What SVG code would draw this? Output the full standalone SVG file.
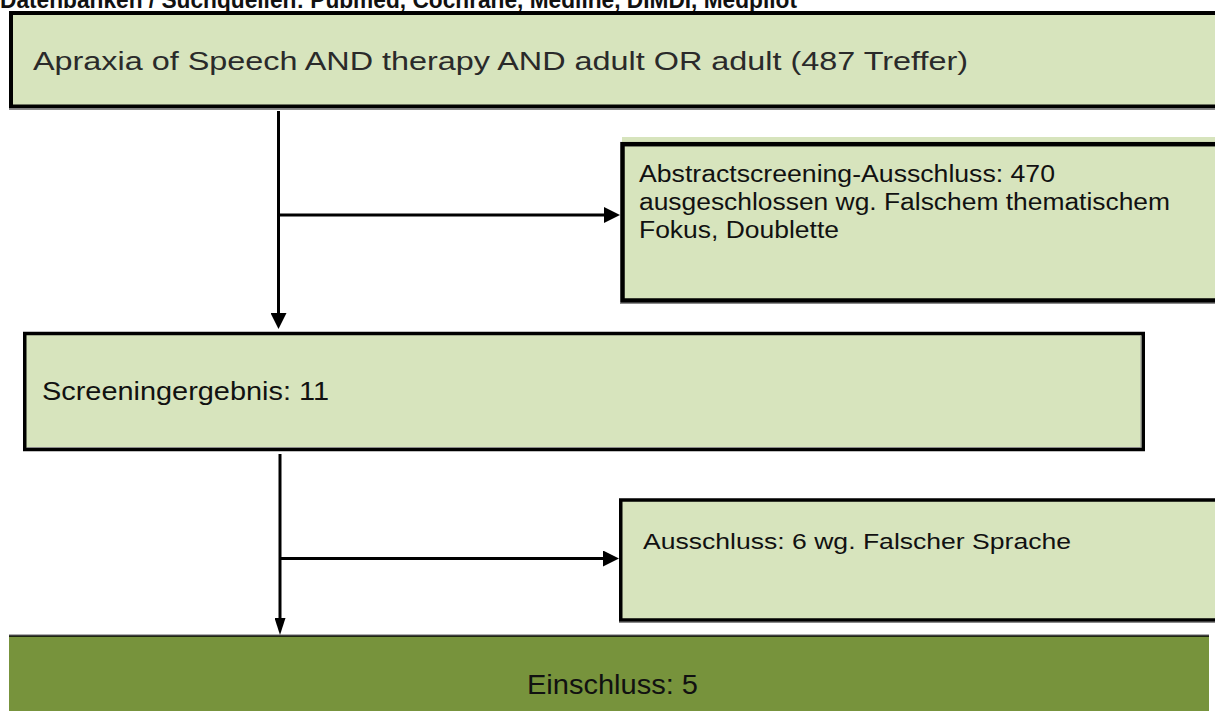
<svg xmlns="http://www.w3.org/2000/svg" width="1215" height="711" viewBox="0 0 1215 711">
  <style>
    .box { fill: #d7e4bd; stroke: #000; }
    .shadow { stroke: #8a8a8a; stroke-width: 1; fill: none; }
    .t { font-family: "Liberation Sans", Arial, sans-serif; fill: #111; }
    .con { stroke: #000; fill: none; stroke-width: 3; }
  </style>
  <defs>
    <marker id="ah" markerUnits="userSpaceOnUse" markerWidth="16" markerHeight="16" refX="1" refY="8" orient="auto">
      <path d="M0,0 L16,8 L0,16 z" fill="#000"/>
    </marker>
    <marker id="ahn" markerUnits="userSpaceOnUse" markerWidth="17" markerHeight="11" refX="1" refY="5.5" orient="auto">
      <path d="M0,0 L17,5.5 L0,11 z" fill="#000"/>
    </marker>
  </defs>
  <rect width="1215" height="711" fill="#fff"/>

  <g id="title">
    <text class="t" x="0" y="8" font-size="24" font-weight="bold" textLength="797" lengthAdjust="spacingAndGlyphs">Datenbanken / Suchquellen: Pubmed, Cochrane, Medline, DIMDI, Medpilot</text>
  </g>

  <g id="node-search">
    <rect class="box" x="11" y="13" width="1220" height="93.5" stroke-width="4"/>
    <line class="shadow" x1="9" y1="109.5" x2="1215" y2="109.5"/>
    <text class="t" x="33" y="70" font-size="26" fill="#2a2a2a" style="fill:#2a2a2a" textLength="935" lengthAdjust="spacingAndGlyphs">Apraxia of Speech AND therapy AND adult OR adult (487 Treffer)</text>
  </g>

  <g id="node-abstract-exclusion">
    <rect x="622" y="137" width="600" height="10" fill="#d7e4bd"/>
    <rect class="box" x="622.5" y="144.2" width="600" height="156.3" stroke-width="4.5"/>
    <line class="shadow" x1="620" y1="303.5" x2="1215" y2="303.5"/>
    <text class="t" font-size="23">
      <tspan x="639" y="182" textLength="416" lengthAdjust="spacingAndGlyphs">Abstractscreening-Ausschluss: 470</tspan>
      <tspan x="639" y="210" textLength="531" lengthAdjust="spacingAndGlyphs">ausgeschlossen wg. Falschem thematischem</tspan>
      <tspan x="639" y="238" textLength="200" lengthAdjust="spacingAndGlyphs">Fokus, Doublette</tspan>
    </text>
  </g>

  <g id="node-screening">
    <rect class="box" x="24.75" y="333.5" width="1118.5" height="116" stroke-width="3.5"/>
    <path class="shadow" d="M27 447.5 H1141 V336"/>
    <text class="t" x="42" y="400" font-size="26" textLength="287" lengthAdjust="spacingAndGlyphs">Screeningergebnis: 11</text>
  </g>

  <g id="node-language-exclusion">
    <rect class="box" x="620.75" y="500" width="600" height="120" stroke-width="3.5"/>
    <line class="shadow" x1="619" y1="622.5" x2="1215" y2="622.5"/>
    <text class="t" x="643" y="549" font-size="22" textLength="428" lengthAdjust="spacingAndGlyphs">Ausschluss: 6 wg. Falscher Sprache</text>
  </g>

  <g id="node-inclusion">
    <line x1="9" y1="634.5" x2="1209" y2="634.5" stroke="#b0b0b0" stroke-width="1"/>
    <rect x="9" y="636" width="1200" height="80" fill="#77933c"/>
    <line x1="9" y1="636" x2="1209" y2="636" stroke="#000" stroke-width="1.5"/>
    <text class="t" x="527" y="694" font-size="27" textLength="171" lengthAdjust="spacingAndGlyphs">Einschluss: 5</text>
  </g>

  <g id="connectors">
    <path class="con" d="M278.5 111 V314" marker-end="url(#ah)"/>
    <path class="con" d="M278.5 215 H605" marker-end="url(#ah)"/>
    <path class="con" d="M280 454 V619" stroke-width="2.5" marker-end="url(#ahn)"/>
    <path class="con" d="M280 558.5 H604" marker-end="url(#ah)"/>
  </g>
</svg>
